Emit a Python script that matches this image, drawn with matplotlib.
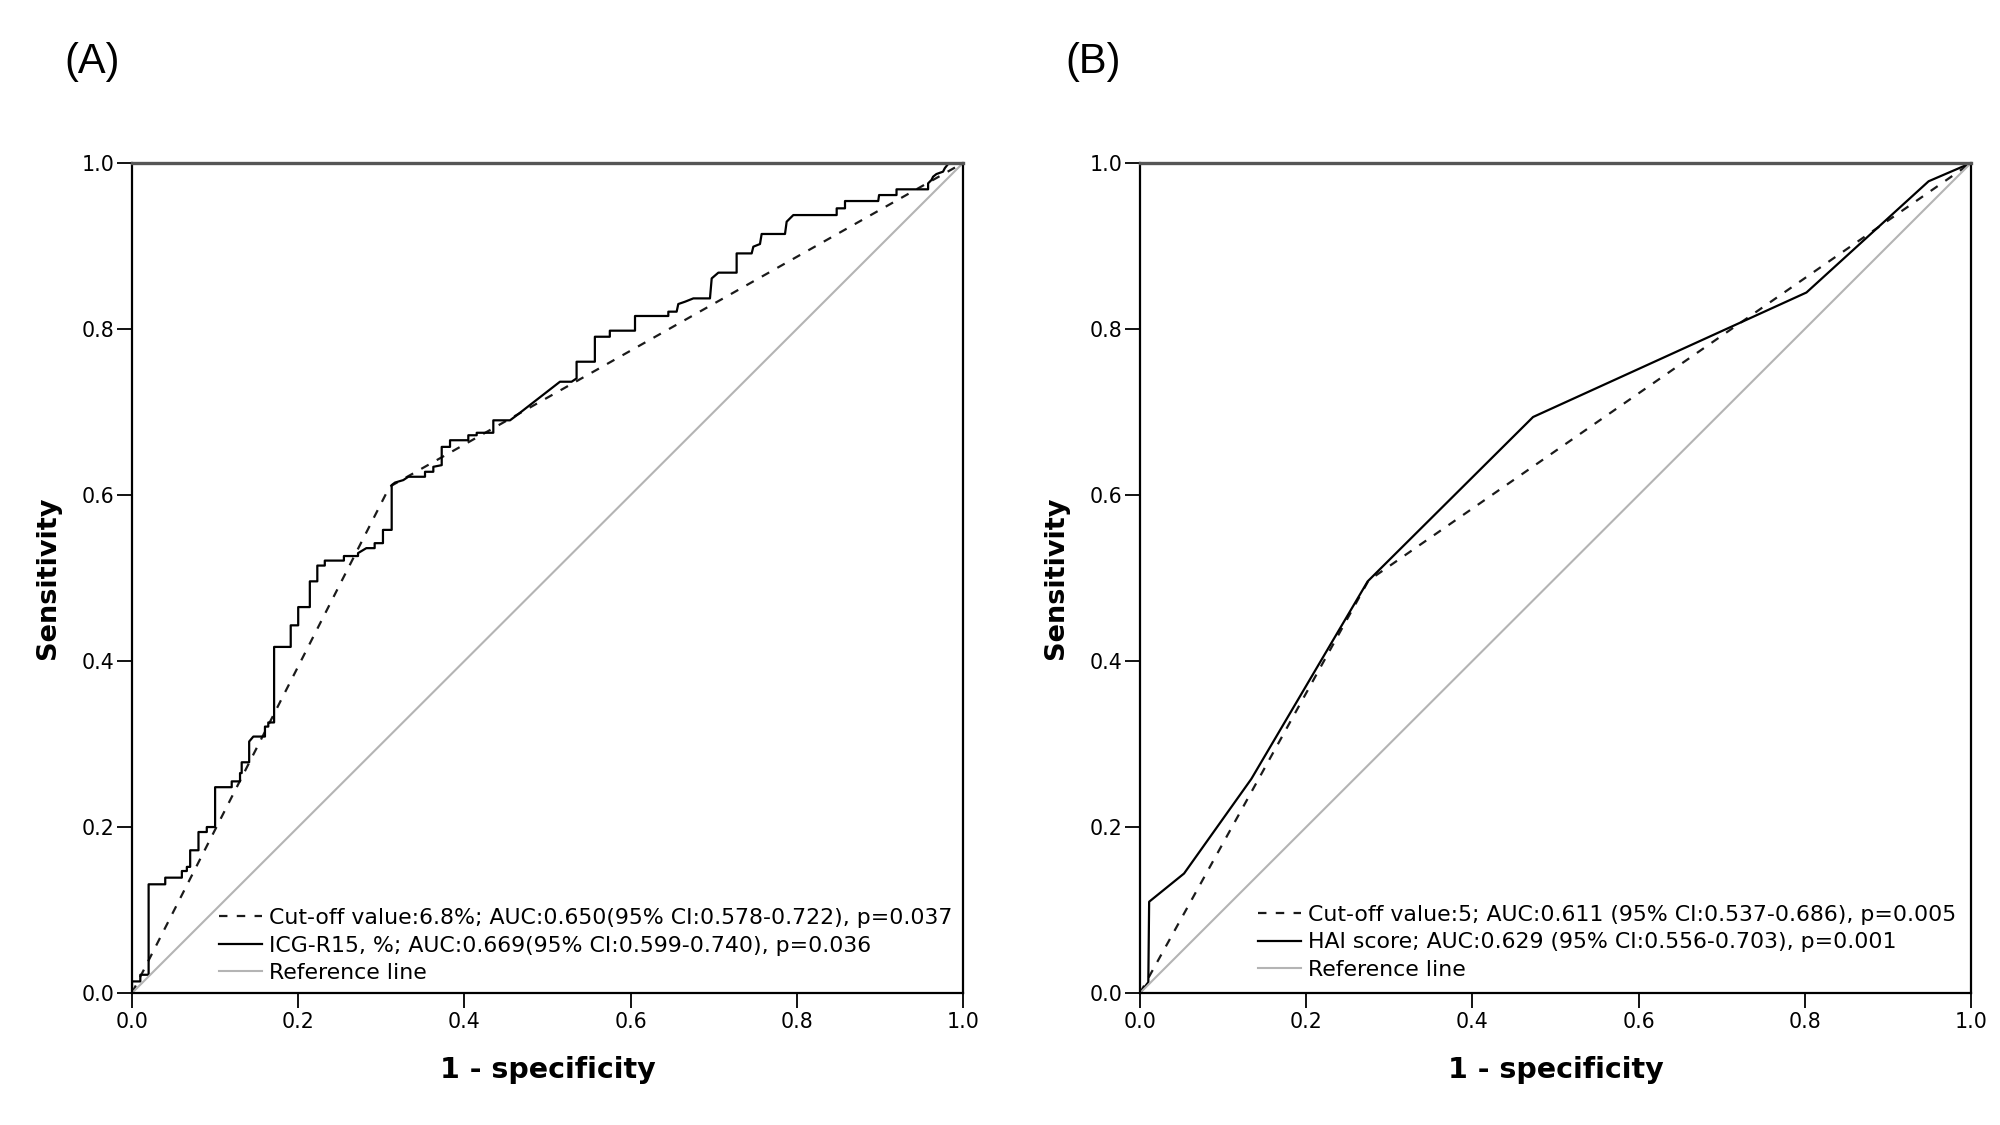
import matplotlib.pyplot as plt

# Panel A: ICG-R15 ROC curve (step curve)
icg_fpr = [0.0, 0.0, 0.01, 0.01, 0.02, 0.02, 0.040, 0.040, 0.060, 0.060, 0.066, 0.066,
           0.070, 0.070, 0.080, 0.080, 0.090, 0.090, 0.100, 0.100, 0.120, 0.120, 0.130,
           0.130, 0.132, 0.132, 0.141, 0.141, 0.146, 0.160, 0.160, 0.164, 0.164, 0.171,
           0.171, 0.191, 0.191, 0.200, 0.200, 0.214, 0.214, 0.223, 0.223, 0.232, 0.232,
           0.255, 0.255, 0.272, 0.272, 0.282, 0.292, 0.292, 0.302, 0.302, 0.3125, 0.3125,
           0.3165, 0.3265, 0.3325, 0.3526, 0.3526, 0.3626, 0.3626, 0.3727, 0.3727, 0.3827,
           0.3827, 0.4047, 0.4047, 0.4148, 0.4148, 0.4348, 0.4348, 0.4549, 0.4629, 0.515,
           0.529, 0.535, 0.535, 0.557, 0.557, 0.575, 0.575, 0.6053, 0.6053, 0.6454, 0.6454,
           0.6554, 0.6574, 0.6655, 0.6755, 0.6955, 0.6976, 0.7056, 0.7276, 0.7276, 0.7457,
           0.7477, 0.7557, 0.7577, 0.7858, 0.7878, 0.7958, 0.848, 0.848, 0.858, 0.858,
           0.898, 0.899, 0.920, 0.920, 0.958, 0.958, 0.962, 0.964, 0.968, 0.976, 0.978,
           0.982, 1.0]
icg_tpr = [0.0, 0.014, 0.014, 0.022, 0.022, 0.131, 0.131, 0.139, 0.139, 0.147, 0.147, 0.152,
           0.152, 0.172, 0.172, 0.194, 0.194, 0.200, 0.200, 0.248, 0.248, 0.255, 0.255,
           0.265, 0.265, 0.278, 0.278, 0.303, 0.309, 0.309, 0.321, 0.321, 0.326, 0.326,
           0.417, 0.417, 0.443, 0.443, 0.465, 0.465, 0.496, 0.496, 0.515, 0.515, 0.521,
           0.521, 0.5265, 0.5265, 0.530, 0.536, 0.536, 0.542, 0.542, 0.558, 0.558, 0.612,
           0.615, 0.618, 0.622, 0.622, 0.628, 0.628, 0.634, 0.636, 0.658, 0.658,
           0.666, 0.666, 0.672, 0.672, 0.675, 0.675, 0.690, 0.690, 0.696, 0.7365,
           0.7365, 0.7405, 0.7606, 0.7606, 0.7907, 0.7907, 0.798, 0.798, 0.8157, 0.8157, 0.8209,
           0.8209, 0.8301, 0.8329, 0.8369, 0.8369, 0.861, 0.8679, 0.8679, 0.8911, 0.8911,
           0.8992, 0.9024, 0.9145, 0.9145, 0.9293, 0.9373, 0.9373, 0.9454, 0.9454, 0.9542,
           0.9542, 0.9614, 0.9614, 0.9683, 0.9683, 0.9755, 0.9795, 0.9835, 0.9867, 0.9896, 0.9936,
           0.9988, 1.0]

# Panel A: cut-off 6.8% (single threshold)
cut_a_fpr = [0.0, 0.310, 1.0]
cut_a_tpr = [0.0, 0.610, 1.0]

# Panel B: HAI score ROC curve
hai_fpr = [0.0, 0.010, 0.011, 0.053, 0.134, 0.274, 0.473, 0.802, 0.949, 1.0]
hai_tpr = [0.0, 0.013, 0.110, 0.144, 0.258, 0.496, 0.694, 0.844, 0.978, 1.0]

# Panel B: cut-off 5
cut_b_fpr = [0.0, 0.275, 1.0]
cut_b_tpr = [0.0, 0.497, 1.0]

labels_a = ["Cut-off value:6.8%; AUC:0.650(95% CI:0.578-0.722), p=0.037",
            "ICG-R15, %; AUC:0.669(95% CI:0.599-0.740), p=0.036",
            "Reference line"]
labels_b = ["Cut-off value:5; AUC:0.611 (95% CI:0.537-0.686), p=0.005",
            "HAI score; AUC:0.629 (95% CI:0.556-0.703), p=0.001",
            "Reference line"]
ticks = [0.0, 0.2, 0.4, 0.6, 0.8, 1.0]

fig = plt.figure(figsize=(20, 11.25), dpi=100)
ax_a = fig.add_axes([0.066, 0.1173, 0.4155, 0.7378])
ax_b = fig.add_axes([0.570, 0.1173, 0.4155, 0.7378])

panels = [
    (ax_a, cut_a_fpr, cut_a_tpr, icg_fpr, icg_tpr, labels_a, (0.105, 0.012)),
    (ax_b, cut_b_fpr, cut_b_tpr, hai_fpr, hai_tpr, labels_b, (0.142, 0.016)),
]

for ax, cfpr, ctpr, fpr, tpr, labels, anchor in panels:
    ax.plot(cfpr, ctpr, color='#1a1a1a', lw=1.6, linestyle=(0, (3.8, 4.2)), label=labels[0])
    ax.plot(fpr, tpr, color='black', lw=1.6, label=labels[1])
    ax.plot([0, 1], [0, 1], color='#b4b4b4', lw=1.5, label=labels[2])
    ax.set_xlim(0, 1)
    ax.set_ylim(0, 1)
    ax.set_xticks(ticks)
    ax.set_yticks(ticks)
    ax.set_xticklabels([f"{t:.1f}" for t in ticks])
    ax.set_yticklabels([f"{t:.1f}" for t in ticks])
    ax.tick_params(length=11, width=1.3, labelsize=14.8, pad=3)
    ax.tick_params(axis='y', pad=1.5)
    for s in ax.spines.values():
        s.set_linewidth(1.6)
    ax.spines['top'].set_linewidth(2.4)
    ax.spines['top'].set_color('#555555')
    ax.set_xlabel("1 - specificity", fontsize=20.5, fontweight='bold', labelpad=17)
    ax.set_ylabel("Sensitivity", fontsize=19.5, fontweight='bold', labelpad=15)
    ax.legend(loc='lower left', bbox_to_anchor=anchor, frameon=False, fontsize=15.8,
              borderaxespad=0, borderpad=0, handlelength=1.95, handletextpad=0.32,
              labelspacing=0.34)

fig.text(0.032, 0.945, "(A)", fontsize=30, family='Liberation Sans', va='center')
fig.text(0.5325, 0.945, "(B)", fontsize=30, family='Liberation Sans', va='center')

fig.savefig("out.png", dpi=100, facecolor='white')
